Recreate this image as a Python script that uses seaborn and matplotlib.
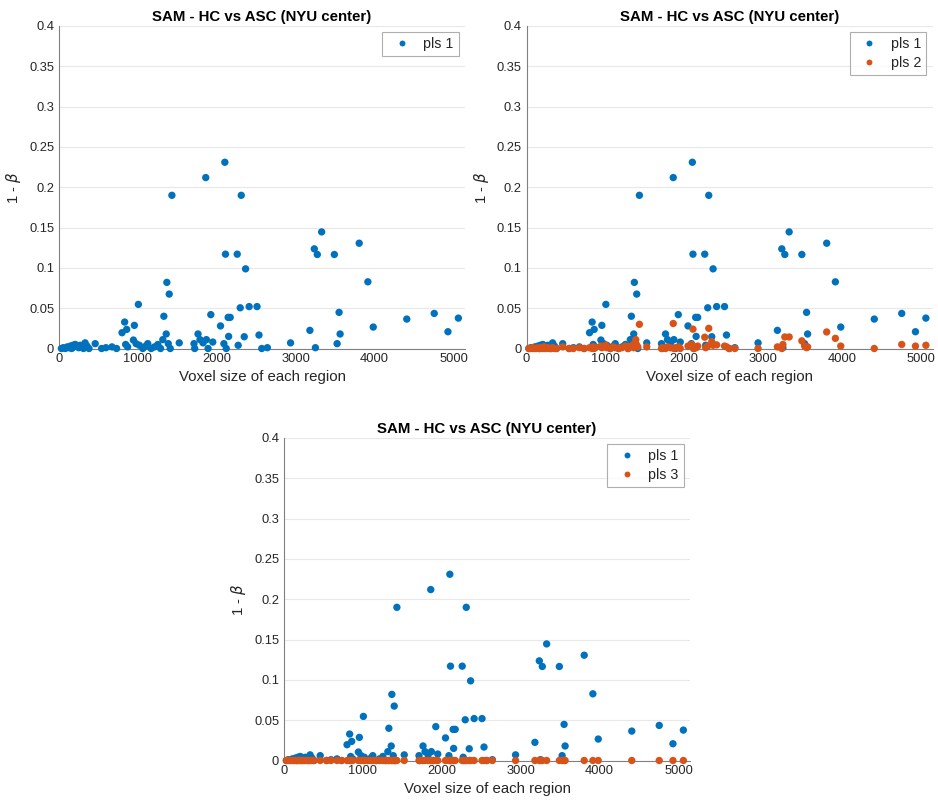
import numpy as np
import pandas as pd
import matplotlib
matplotlib.use("Agg")
import matplotlib.pyplot as plt
import seaborn as sns
from matplotlib.ticker import FuncFormatter

# voxel size of each region (shared by all series)
region_size = [30, 55, 80, 105, 125, 145, 160, 175, 190, 205, 220, 235, 250, 270, 290, 310,
               331, 355, 380, 459, 540, 595, 671, 730, 799, 832, 845, 858, 870, 943, 955, 977,
               1006, 1019, 1062, 1100, 1125, 1168, 1210, 1253, 1287, 1316, 1329, 1359, 1367, 1385,
               1397, 1410, 1431, 1524, 1711, 1720, 1762, 1787, 1826, 1860, 1868, 1890, 1924, 1949,
               2047, 2090, 2102, 2110, 2120, 2144, 2150, 2170, 2259, 2271, 2297, 2310, 2348, 2365,
               2410, 2510, 2535, 2570, 2641, 2935, 3180, 3236, 3250, 3274, 3329, 3490, 3525, 3550,
               3563, 3805, 3915, 3983, 4408, 4756, 4930, 5062]

# 1 - beta for each pls component
pls1 = [0.000, 0.001, 0.000, 0.002, 0.001, 0.003, 0.000, 0.004, 0.002, 0.005, 0.004, 0.003,
        0.001, 0.004, 0.002, 0.000, 0.007, 0.003, 0.000, 0.006, 0.000, 0.001, 0.002, 0.000,
        0.0196, 0.0328, 0.005, 0.0237, 0.002, 0.0105, 0.0287, 0.006, 0.0547, 0.004, 0.000, 0.003,
        0.006, 0.000, 0.002, 0.005, 0.000, 0.011, 0.040, 0.018, 0.082, 0.006, 0.0675, 0.000,
        0.190, 0.007, 0.006, 0.000, 0.018, 0.011, 0.007, 0.212, 0.011, 0.000, 0.042, 0.008,
        0.028, 0.006, 0.231, 0.117, 0.000, 0.0386, 0.015, 0.0386, 0.117, 0.004, 0.0505, 0.190,
        0.0146, 0.0988, 0.052, 0.052, 0.0167, 0.000, 0.001, 0.007, 0.0225, 0.1236, 0.001, 0.1166,
        0.1446, 0.1166, 0.006, 0.0448, 0.018, 0.1306, 0.0827, 0.0266, 0.0365, 0.0435, 0.0208, 0.0377]

pls2 = [0.000, 0.000, 0.001, 0.000, 0.000, 0.001, 0.000, 0.000, 0.001, 0.000, 0.002, 0.000,
        0.000, 0.001, 0.000, 0.000, 0.001, 0.000, 0.000, 0.002, 0.000, 0.000, 0.001, 0.000,
        0.001, 0.000, 0.002, 0.000, 0.001, 0.003, 0.001, 0.002, 0.004, 0.001, 0.000, 0.002,
        0.001, 0.000, 0.001, 0.003, 0.000, 0.002, 0.003, 0.001, 0.006, 0.011, 0.004, 0.002,
        0.030, 0.002, 0.000, 0.001, 0.000, 0.002, 0.001, 0.031, 0.000, 0.001, 0.002, 0.000,
        0.003, 0.005, 0.002, 0.024, 0.000, 0.002, 0.001, 0.003, 0.014, 0.001, 0.003, 0.025,
        0.0085, 0.004, 0.0045, 0.003, 0.002, 0.000, 0.000, 0.000, 0.002, 0.000, 0.005, 0.0143,
        0.0143, 0.0095, 0.003, 0.001, 0.002, 0.0205, 0.0126, 0.003, 0.000, 0.005, 0.003, 0.004]

pls3 = [0.000, 0.000, 0.000, 0.000, 0.000, 0.000, 0.000, 0.000, 0.000, 0.000, 0.000, 0.000,
        0.000, 0.000, 0.000, 0.000, 0.000, 0.000, 0.000, 0.000, 0.000, 0.000, 0.000, 0.000,
        0.000, 0.000, 0.000, 0.000, 0.000, 0.000, 0.000, 0.000, 0.000, 0.000, 0.000, 0.000,
        0.000, 0.000, 0.000, 0.000, 0.000, 0.000, 0.000, 0.000, 0.000, 0.000, 0.000, 0.000,
        0.000, 0.000, 0.000, 0.000, 0.000, 0.000, 0.000, 0.000, 0.000, 0.000, 0.000, 0.000,
        0.000, 0.000, 0.000, 0.000, 0.000, 0.000, 0.000, 0.000, 0.000, 0.000, 0.000, 0.000,
        0.000, 0.000, 0.000, 0.000, 0.000, 0.000, 0.000, 0.000, 0.000, 0.000, 0.000, 0.000,
        0.000, 0.000, 0.000, 0.000, 0.000, 0.000, 0.000, 0.000, 0.000, 0.000, 0.000, 0.000]

x_ticks = [0, 1000, 2000, 3000, 4000, 5000]
y_ticks = [0, 0.05, 0.1, 0.15, 0.2, 0.25, 0.3, 0.35, 0.4]

title = "SAM - HC vs ASC (NYU center)"
colors = ["#0072BD", "#D95319"]

sns.set_style("white")
plt.rcParams['font.family'] = ['Liberation Sans', 'DejaVu Sans']

axis_gray = "#808080"
text_col = "#262626"


def draw_panel(ax, series):
    # series: list of (label, values)
    df = pd.concat([pd.DataFrame({"size": region_size, "power": vals, "series": lab})
                    for lab, vals in series], ignore_index=True)
    sns.scatterplot(data=df, x="size", y="power", hue="series",
                    palette=colors[:len(series)], s=28, linewidth=0,
                    clip_on=False, zorder=3, ax=ax)
    ax.set_xlim(0, 5146)
    ax.set_ylim(0, 0.4)
    ax.set_xticks(x_ticks)
    ax.set_yticks(y_ticks)
    ax.yaxis.set_major_formatter(FuncFormatter(lambda v, p: "%g" % round(v, 3)))
    ax.yaxis.grid(True, color="#e8e8e8", lw=0.8)
    ax.xaxis.grid(False)
    ax.set_axisbelow(True)
    for s in ["top", "right"]:
        ax.spines[s].set_visible(False)
    for s in ["left", "bottom"]:
        ax.spines[s].set_color(axis_gray)
        ax.spines[s].set_linewidth(0.8)
    ax.tick_params(direction="in", length=3, width=0.8, color=axis_gray,
                   labelsize=9.3, labelcolor=text_col, pad=3.5)
    ax.set_xlabel("Voxel size of each region", fontsize=10.8, color=text_col, labelpad=3)
    ax.set_ylabel(r"1 - $\beta$", fontsize=10.8, color=text_col, labelpad=4)
    ax.set_title(title, fontsize=10.8, fontweight="bold", color="black", pad=3.5)
    sns.move_legend(ax, "upper right", title=None, frameon=True, fancybox=False,
                    edgecolor="#9a9a9a", fontsize=10.3, borderaxespad=0.45,
                    handletextpad=0.5, borderpad=0.35, labelspacing=0.3, markerscale=0.8)
    ax.get_legend().get_frame().set_linewidth(0.8)


fig = plt.figure(figsize=(9.38, 8.08), dpi=100)
W, H = 938, 808

ax1 = fig.add_axes([59 / W, 1 - 348.5 / H, 406 / W, 322.5 / H])
ax2 = fig.add_axes([526.5 / W, 1 - 348.5 / H, 406 / W, 322.5 / H])
ax3 = fig.add_axes([284 / W, 1 - 760.5 / H, 406 / W, 322.5 / H])

draw_panel(ax1, [("pls 1", pls1)])
draw_panel(ax2, [("pls 1", pls1), ("pls 2", pls2)])
draw_panel(ax3, [("pls 1", pls1), ("pls 3", pls3)])

fig.savefig("out.png", dpi=100)
